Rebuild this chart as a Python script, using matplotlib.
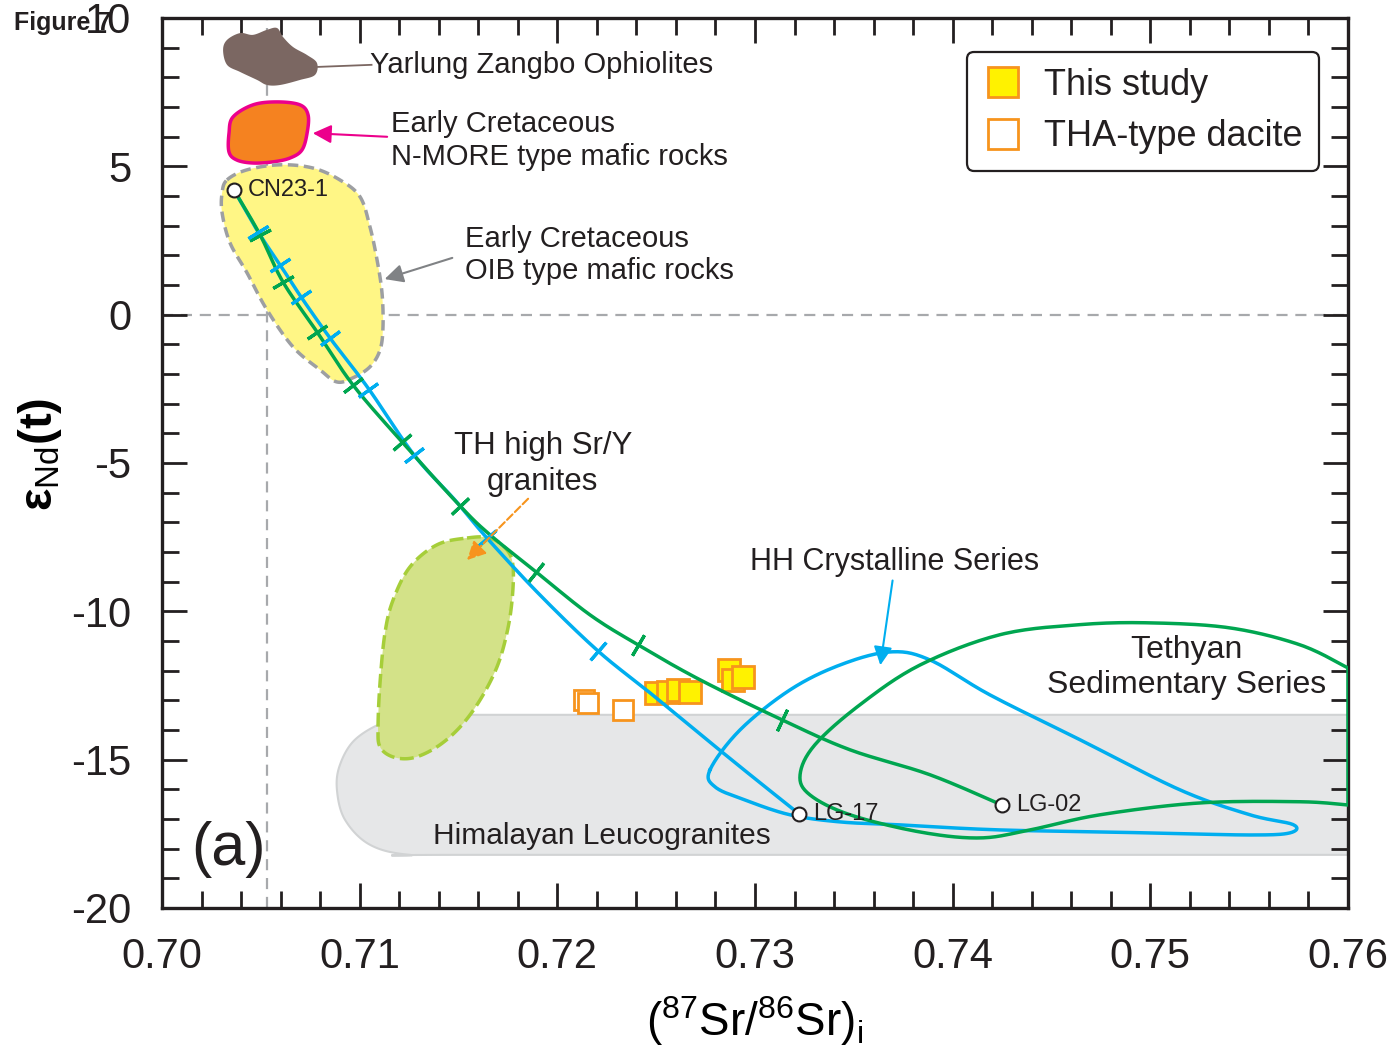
import numpy as np
import matplotlib
matplotlib.use('Agg')
import matplotlib.pyplot as plt
from matplotlib.ticker import MultipleLocator, FormatStrFormatter
from matplotlib.lines import Line2D

plt.rcParams.update({
    'font.family': ['Liberation Sans', 'DejaVu Sans'],
    'mathtext.fontset': 'custom',
    'mathtext.rm': 'Liberation Sans',
    'mathtext.it': 'Liberation Sans:italic',
    'mathtext.bf': 'Liberation Sans:bold',
    'axes.unicode_minus': False,
    'text.color': '#231f20',
})

# samples
study_x = [0.7250, 0.7256, 0.7261, 0.7267, 0.7287, 0.7289, 0.7294]
study_y = [-12.75, -12.72, -12.65, -12.72, -11.97, -12.31, -12.21]
tha_x = [0.72135, 0.72155, 0.72332]
tha_y = [-12.99, -13.09, -13.32]

# mixing end members
end_names = ['CN23-1', 'LG-17', 'LG-02']
end_x = [0.70364, 0.73223, 0.74249]
end_y = [4.20, -16.83, -16.53]

# mixing curves
blue_x = [0.70364, 0.70486, 0.70597, 0.70703, 0.70850, 0.71042, 0.71275, 0.71482,
          0.71644, 0.71912, 0.72206, 0.72469, 0.72757, 0.72975, 0.73223]
blue_y = [4.20, 2.79, 1.68, 0.60, -0.79, -2.47, -4.73, -6.25,
          -7.53, -9.45, -11.34, -12.75, -14.33, -15.51, -16.83]
blue_tick_x = [0.70486, 0.70597, 0.70703, 0.70850, 0.71042, 0.71275, 0.71644, 0.72206]
blue_tick_y = [2.79, 1.68, 0.60, -0.79, -2.54, -4.73, -7.53, -11.34]

green_x = [0.70364, 0.70496, 0.70612, 0.70784, 0.70966, 0.71214, 0.71508, 0.71659,
           0.71892, 0.72165, 0.72408, 0.72722, 0.73137, 0.73481, 0.73885, 0.74249]
green_y = [4.20, 2.69, 1.10, -0.58, -2.37, -4.29, -6.45, -7.42,
           -8.67, -10.12, -11.13, -12.31, -13.66, -14.67, -15.51, -16.53]
green_tick_x = [0.70496, 0.70612, 0.70784, 0.70966, 0.71214, 0.71508, 0.71892, 0.72408, 0.73137]
green_tick_y = [2.69, 1.10, -0.58, -2.37, -4.29, -6.45, -8.67, -11.13, -13.66]

# fields
oph_x = [0.70329, 0.70395, 0.70460, 0.70531, 0.70582, 0.70612, 0.70663, 0.70734, 0.70784,
         0.70774, 0.70698, 0.70597, 0.70531, 0.70481, 0.70395, 0.70329, 0.70309]
oph_y = [9.26, 9.49, 9.43, 9.60, 9.66, 9.36, 9.02, 8.75, 8.48,
         8.08, 7.91, 7.74, 7.74, 7.91, 8.18, 8.42, 8.92]

morb_x = [0.70359, 0.70460, 0.70582, 0.70698, 0.70739, 0.70734, 0.70708, 0.70648,
          0.70562, 0.70460, 0.70379, 0.70339, 0.70339]
morb_y = [6.66, 7.07, 7.17, 7.07, 6.73, 6.12, 5.55, 5.28, 5.15, 5.11, 5.21, 5.48, 6.12]

oib_x = [0.70329, 0.70430, 0.70597, 0.70764, 0.70900, 0.71002, 0.71052, 0.71088, 0.71113,
         0.71118, 0.71103, 0.71052, 0.70966, 0.70885, 0.70799, 0.70663, 0.70531, 0.70430,
         0.70344, 0.70304, 0.70304]
oib_y = [4.54, 4.88, 5.05, 4.94, 4.54, 3.97, 2.96, 1.84, 0.73,
         -0.41, -1.19, -1.76, -2.13, -2.27, -1.86, -1.09, 0.16, 1.41,
         2.42, 3.43, 4.10]

th_x = [0.71543, 0.71659, 0.71745, 0.71776, 0.71771, 0.71745, 0.71695, 0.71609, 0.71508,
        0.71391, 0.71270, 0.71169, 0.71103, 0.71093, 0.71103, 0.71128, 0.71169, 0.71255, 0.71391]
th_y = [-7.53, -7.53, -7.93, -8.50, -9.62, -10.73, -11.87, -12.99, -13.90,
        -14.57, -14.94, -14.91, -14.57, -13.90, -12.41, -10.73, -9.62, -8.50, -7.76]

leuco_x = [0.76, 0.7160, 0.71305, 0.71128, 0.70976, 0.70900, 0.70885, 0.70926, 0.71052,
           0.71255, 0.7160, 0.76]
leuco_y = [-13.49, -13.49, -13.49, -13.73, -14.33, -15.18, -16.02, -17.03, -17.87,
           -18.21, -18.21, -18.21]

hh_x = [0.72772, 0.72924, 0.73177, 0.73430, 0.73683, 0.73885, 0.74189, 0.74644, 0.75150,
        0.75504, 0.75722, 0.75706, 0.75504, 0.74998, 0.74239, 0.73734, 0.73430, 0.73177,
        0.72949, 0.72798]
hh_y = [-15.35, -14.00, -12.65, -11.81, -11.37, -11.64, -12.82, -14.33, -16.02,
        -16.86, -17.19, -17.47, -17.54, -17.47, -17.37, -17.20, -17.10, -16.86,
        -16.36, -15.92]

teth_x = [0.76, 0.75757, 0.75403, 0.74998, 0.74644, 0.74239, 0.73835, 0.73531, 0.73303,
          0.73228, 0.73278, 0.73481, 0.73835, 0.74138, 0.74391, 0.74745, 0.75251, 0.75757, 0.76]
teth_y = [-11.91, -11.13, -10.56, -10.39, -10.45, -10.79, -11.81, -13.15, -14.50,
          -15.51, -16.19, -16.86, -17.44, -17.64, -17.37, -16.86, -16.46, -16.42, -16.53]

bse_sr = 0.7053
chur_nd = 0.0


def smooth(x, y, closed=False, n=16):
    P = np.column_stack([x, y]).astype(float)
    if closed:
        P = np.vstack([P[-1], P, P[0], P[1]])
    else:
        P = np.vstack([P[0], P, P[-1]])
    t = np.linspace(0, 1, n, endpoint=False)[:, None]
    segs = []
    for i in range(1, len(P) - 2):
        p0, p1, p2, p3 = P[i - 1], P[i], P[i + 1], P[i + 2]
        segs.append(0.5 * (2 * p1 + (p2 - p0) * t + (2 * p0 - 5 * p1 + 4 * p2 - p3) * t ** 2
                           + (3 * p1 - p0 - 3 * p2 + p3) * t ** 3))
    segs.append(P[-2][None])
    out = np.vstack(segs)
    return out[:, 0], out[:, 1]


fig = plt.figure(figsize=(13.93, 10.56), dpi=100)
ax = fig.add_axes([0.1163, 0.1402, 0.8514, 0.8428])
ax.set_xlim(0.70, 0.76)
ax.set_ylim(-20, 10)

BLUE = '#00aeef'
GREEN = '#00a650'

# reference lines
ax.axhline(chur_nd, color='#a7a9ac', lw=1.6, ls=(0, (5, 3.5)), zorder=1)
ax.axvline(bse_sr, color='#a7a9ac', lw=1.6, ls=(0, (5, 3.5)), zorder=1)

# fields
ax.fill(*smooth(leuco_x, leuco_y), fc='#e6e7e8', ec='#d1d3d4', lw=1.5, zorder=1.5)
ax.fill(*smooth(oph_x, oph_y, True), fc='#7b6762', ec='none', zorder=2)
ax.fill(*smooth(morb_x, morb_y, True), fc='#f58220', ec='#ec008c', lw=2.5, zorder=2)
ax.fill(*smooth(oib_x, oib_y, True), fc='#fff685', ec='#9d9fa2', lw=2.5,
        ls=(0, (3, 1.6)), zorder=2)
ax.fill(*smooth(th_x, th_y, True), fc='#d3e288', ec='#a6ce39', lw=2.5,
        ls=(0, (4, 1.6)), zorder=2)

hx, hy = smooth(hh_x, hh_y, True)
ax.plot(hx, hy, color=BLUE, lw=2.5, zorder=3)
tx, ty = smooth(teth_x, teth_y)
ax.plot(np.append(tx, teth_x[0]), np.append(ty, teth_y[0]), color=GREEN, lw=2.5, zorder=3)

# samples
ax.plot(tha_x, tha_y, ls='none', marker='s', ms=15, mfc='white', mec='#f7941d', mew=2, zorder=3)
ax.plot(study_x, study_y, ls='none', marker='s', ms=16.5, mfc='#fff200', mec='#f7941d',
        mew=2, zorder=3)

# mixing curves
bx, by = smooth(blue_x, blue_y)
gx, gy = smooth(green_x, green_y)
ax.plot(bx, by, color=BLUE, lw=2.5, zorder=4)
ax.plot(gx, gy, color=GREEN, lw=2.5, zorder=4)


def tick_marks(cx, cy, tx, ty, color):
    disp = ax.transData.transform(np.column_stack([cx, cy]))
    for x, y in zip(tx, ty):
        p = ax.transData.transform((x, y))
        i = np.argmin(np.hypot(*(disp - p).T))
        d = disp[min(i + 3, len(disp) - 1)] - disp[max(i - 3, 0)]
        ang = np.degrees(np.arctan2(d[1], d[0]))
        ax.plot(x, y, marker=(2, 2, ang), ms=17, mew=2.3, color=color, zorder=5)


tick_marks(gx, gy, green_tick_x, green_tick_y, GREEN)
tick_marks(bx, by, blue_tick_x, blue_tick_y, BLUE)

ax.plot(end_x, end_y, ls='none', marker='o', ms=10, mfc='white', mec='#231f20', mew=1.5, zorder=6)
for name, x, y in zip(end_names, end_x, end_y):
    ax.text(x + 0.0007, y, name, fontsize=17, ha='left', va='center', zorder=6)

# labels
ax.plot([0.70789, 0.71060], [8.35, 8.42], color='#7b6762', lw=1.3, zorder=2)
ax.text(0.71052, 8.42, 'Yarlung Zangbo Ophiolites', fontsize=21, va='center')
ax.text(0.71158, 5.87, 'Early Cretaceous\nN-MORE type mafic rocks', fontsize=21,
        va='center', linespacing=1.2)
ax.text(0.71533, 2.0, 'Early Cretaceous\nOIB type mafic rocks', fontsize=21,
        va='center', linespacing=1.2)
ax.text(0.71927, -5.03, 'TH high Sr/Y\ngranites', fontsize=22.5, ha='center',
        va='center', multialignment='center', linespacing=1.25)
ax.text(0.72975, -8.34, 'HH Crystalline Series', fontsize=22, va='center')
ax.text(0.75185, -11.89, 'Tethyan\nSedimentary Series', fontsize=23, ha='center',
        va='center', multialignment='center', linespacing=1.2)
ax.text(0.71371, -17.57, 'Himalayan Leucogranites', fontsize=21.5, va='center')
ax.text(0.70334, -18.04, '(a)', fontsize=44, ha='center', va='center')

ax.annotate('', xy=(0.70749, 6.12), xytext=(0.71153, 5.99),
            arrowprops=dict(arrowstyle='-|>', color='#ec008c', lw=1.5, mutation_scale=28))
ax.annotate('', xy=(0.71113, 1.17), xytext=(0.71482, 1.94),
            arrowprops=dict(arrowstyle='-|>', color='#808285', lw=1.5, mutation_scale=28))
ax.annotate('', xy=(0.71533, -8.34), xytext=(0.71862, -6.14),
            arrowprops=dict(arrowstyle='-|>', color='#f7941d', lw=1.5, ls='--',
                            mutation_scale=28), zorder=5)
ax.annotate('', xy=(0.73632, -11.91), xytext=(0.73698, -8.87),
            arrowprops=dict(arrowstyle='-|>', color=BLUE, lw=1.5, mutation_scale=28))

# axes styling
ax.xaxis.set_major_locator(MultipleLocator(0.01))
ax.xaxis.set_minor_locator(MultipleLocator(0.002))
ax.xaxis.set_major_formatter(FormatStrFormatter('%.2f'))
ax.yaxis.set_major_locator(MultipleLocator(5))
ax.yaxis.set_minor_locator(MultipleLocator(1))
ax.tick_params(which='both', direction='in', top=True, right=True, width=2, color='#231f20')
ax.tick_params(which='major', length=18, labelsize=30, labelcolor='#231f20')
ax.tick_params(axis='x', which='major', pad=21)
ax.tick_params(axis='y', which='major', pad=22)
ax.tick_params(which='minor', length=12)
for s in ax.spines.values():
    s.set_linewidth(2.4)
    s.set_color('#231f20')

ax.set_xlabel(r'$(^{87}\mathrm{Sr}/^{86}\mathrm{Sr})_\mathrm{i}$', fontsize=33)
ax.xaxis.label.set_va('center')
ax.xaxis.set_label_coords(0.5, -0.127)
ax.set_ylabel(r'$\mathbf{ε}_{\mathrm{Nd}}\mathbf{(t)}$', fontsize=34)
ax.yaxis.label.set_va('center')
ax.yaxis.set_label_coords(-0.103, 0.51)

handles = [
    Line2D([], [], ls='none', marker='s', ms=21, mfc='#fff200', mec='#f7941d', mew=2),
    Line2D([], [], ls='none', marker='s', ms=21, mfc='white', mec='#f7941d', mew=2),
]
leg = ax.legend(handles, ['This study', 'THA-type dacite'], loc='upper right',
                bbox_to_anchor=(0.9756, 0.962), borderaxespad=0, fontsize=26,
                handlelength=1.1, handletextpad=0.6, labelspacing=0.45,
                borderpad=0.45, fancybox=True, framealpha=1)
leg.get_frame().set_edgecolor('#231f20')
leg.get_frame().set_linewidth(1.6)

fig.text(0.01, 0.978, 'Figure 7', fontsize=18, fontweight='bold', va='center',
         family=['Liberation Sans', 'DejaVu Sans'])

fig.savefig('out.png', dpi=100)
